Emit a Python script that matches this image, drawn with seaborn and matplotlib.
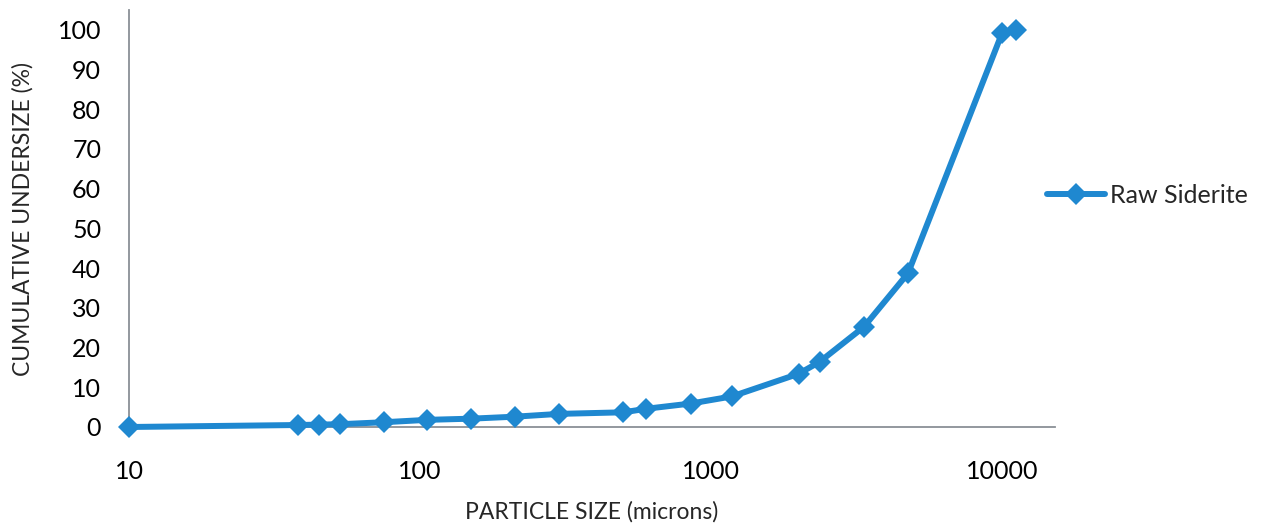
import matplotlib
matplotlib.use("Agg")
import matplotlib.pyplot as plt
import seaborn as sns
import pandas as pd

# Data (particle size in microns, cumulative undersize %)
particle_size = [10, 38, 45, 53, 75, 106, 150, 212, 300, 500, 600, 850, 1180,
                 2000, 2360, 3350, 4750, 10000, 11200]
cum_undersize = [0.0, 0.5, 0.6, 0.7, 1.2, 1.8, 2.1, 2.6, 3.3, 3.7, 4.6, 5.9, 7.7,
                 13.4, 16.4, 25.2, 38.7, 99.2, 100.0]
series_name = "Raw Siderite"
x_ticks = [10, 100, 1000, 10000]
x_tick_labels = ["10", "100", "1000", "10000"]
y_ticks = [0, 10, 20, 30, 40, 50, 60, 70, 80, 90, 100]

sns.set_style("white")
plt.rcParams['font.family'] = ['Lato', 'DejaVu Sans']

df = pd.DataFrame({"size": particle_size, "under": cum_undersize})

fig = plt.figure(figsize=(12.65, 5.31), dpi=100)
ax = fig.add_axes([129/1265, 1 - 427/531, (1055 - 129)/1265, (427 - 10)/531])

color = "#1f88d0"
sns.lineplot(data=df, x="size", y="under", ax=ax, color=color, linewidth=4.3,
             marker="D", markersize=11.5, markeredgewidth=0, label=series_name,
             sort=False, clip_on=False, zorder=5)

ax.set_xscale("log")
ax.set_xlim(10, 15200)
ax.set_ylim(0, 105)
ax.set_xticks(x_ticks)
ax.set_xticklabels(x_tick_labels)
ax.minorticks_off()
ax.set_yticks(y_ticks)
ax.set_yticklabels([str(v) for v in y_ticks])
ax.tick_params(axis="both", length=0, labelsize=18, colors="#000000")
ax.tick_params(axis="y", pad=20)
ax.tick_params(axis="x", pad=24)

for side in ["top", "right"]:
    ax.spines[side].set_visible(False)
for side in ["left", "bottom"]:
    ax.spines[side].set_color("#8a9096")
    ax.spines[side].set_linewidth(1.3)

ax.set_xlabel("PARTICLE SIZE (microns)", fontsize=16.5, va="center", ha="center")
ax.xaxis.set_label_coords(0.5, (427 - 512) / 417)
ax.set_ylabel("CUMULATIVE UNDERSIZE (%)", fontsize=16.5, va="center", ha="center")
ax.yaxis.set_label_coords((23 - 129) / 926, 0.5)
ax.grid(False)

ax.get_legend().remove()
handles, labels = ax.get_legend_handles_labels()
fig.legend(handles, labels, loc="center left",
           bbox_to_anchor=(1047/1265, 1 - 195/531), bbox_transform=fig.transFigure,
           frameon=False, fontsize=18, borderpad=0, borderaxespad=0,
           handlelength=2.3, handletextpad=0.2)

fig.savefig("out.png", dpi=100)
